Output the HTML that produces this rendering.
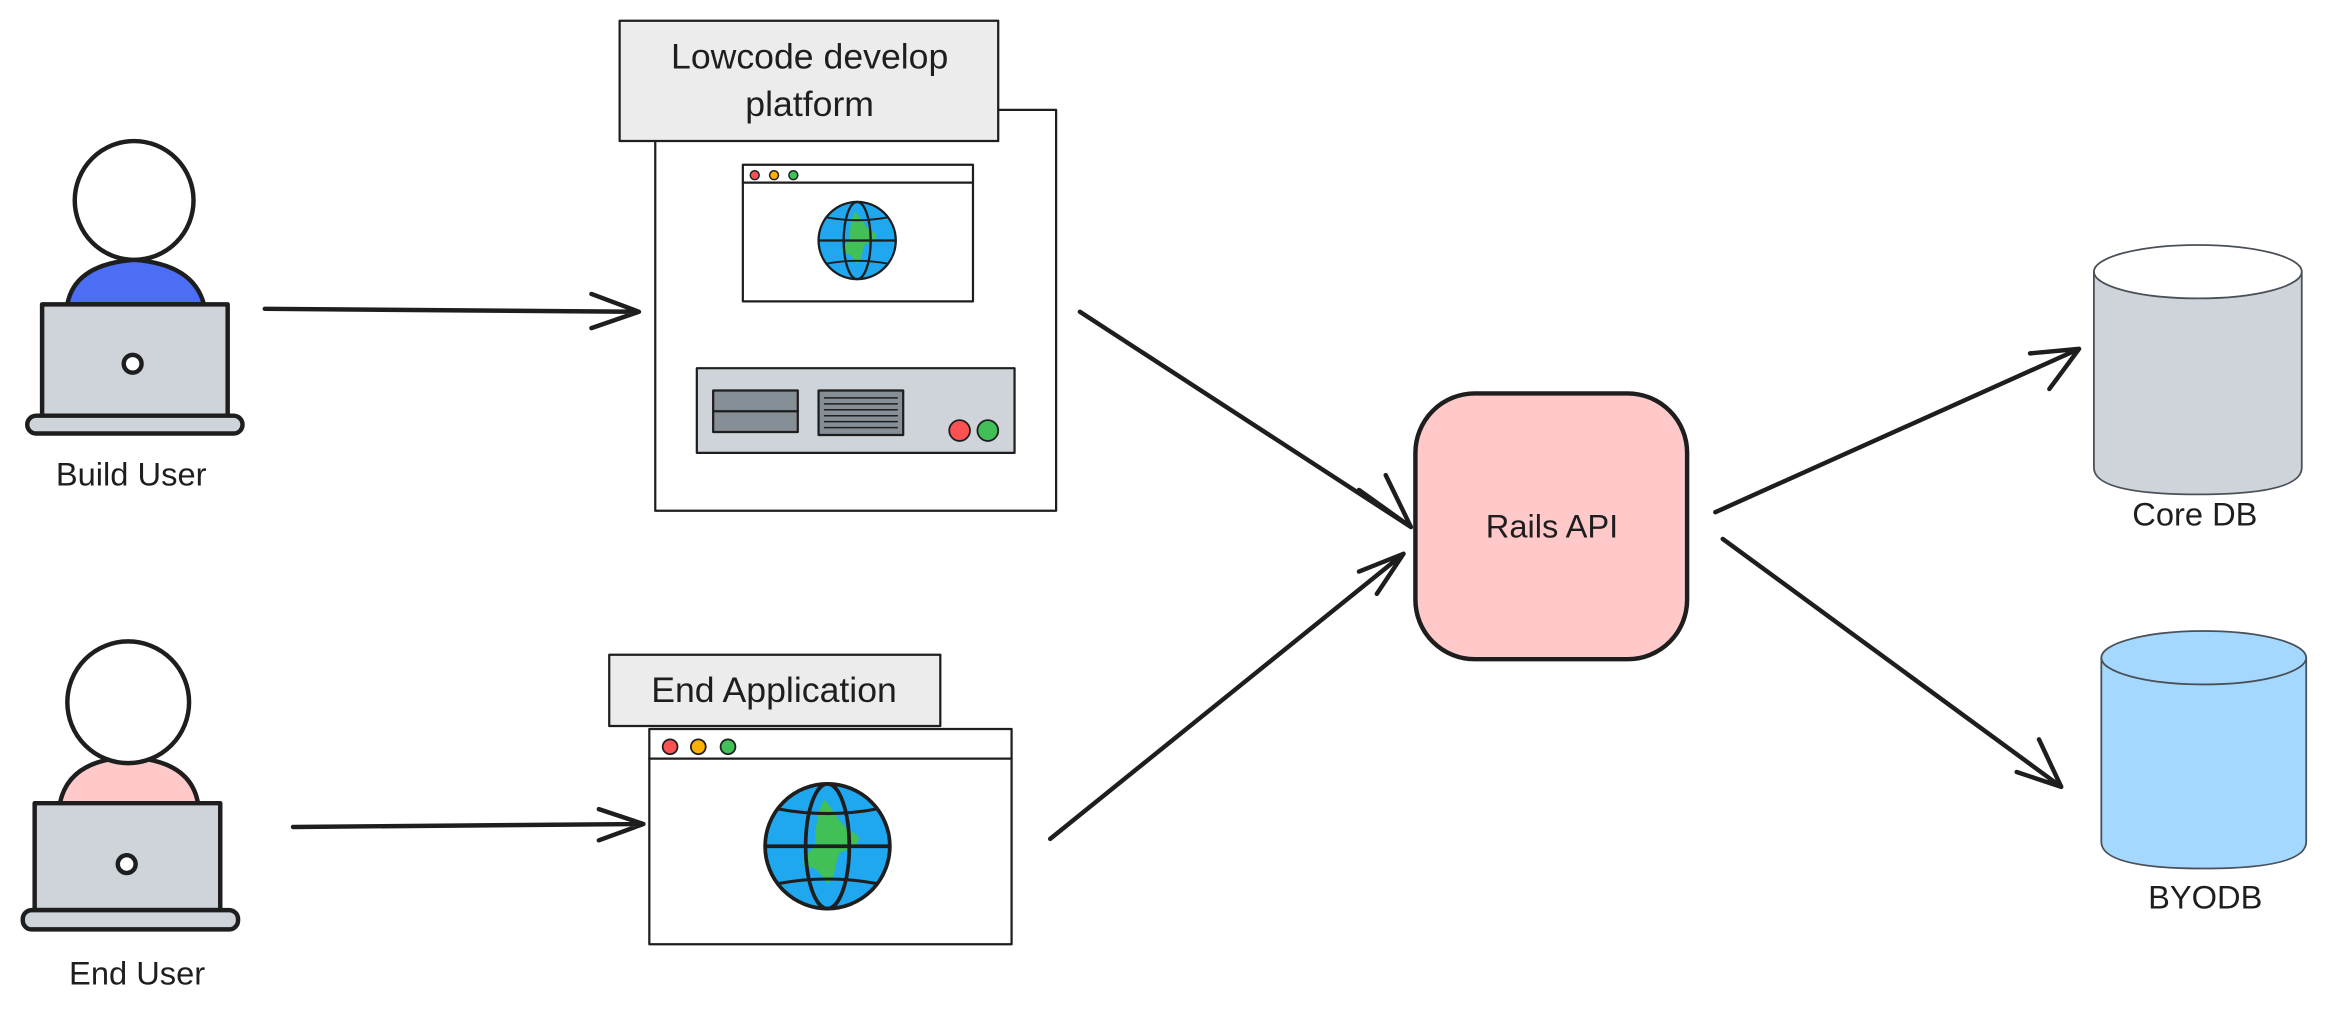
<!DOCTYPE html>
<html><head><meta charset="utf-8"><style>
html,body{margin:0;padding:0;background:#fff;}
svg{display:block;}
text{font-family:"Liberation Sans",sans-serif;fill:#1e1e1e;}
</style></head><body>
<svg width="2329" height="1017" viewBox="0 0 1568 685" xmlns="http://www.w3.org/2000/svg">
<defs>
<g id="globe" stroke="#1e1e1e" stroke-width="0.06">
<circle r="1" fill="#1fa8f0"/>
<path d="M-0.05,-0.75 C0.1,-0.6 0.2,-0.3 0.45,-0.2 C0.6,-0.1 0.4,0.05 0.2,0.1 C0.1,0.3 0.15,0.5 0,0.6 C-0.15,0.4 -0.2,0.3 -0.35,0.35 C-0.45,0.2 -0.3,0.1 -0.2,0 C-0.2,-0.3 -0.15,-0.6 -0.05,-0.75Z" fill="#40c057" stroke="none"/>
<ellipse rx="0.35" ry="1" fill="none"/>
<line x1="-1" y1="0" x2="1" y2="0"/>
<path d="M-0.8,-0.6 Q0,-0.45 0.8,-0.6 M-0.8,0.6 Q0,0.45 0.8,0.6" fill="none" stroke-width="0.05"/>
</g>
</defs>
<g stroke="#1e1e1e" stroke-linecap="round" stroke-linejoin="round">
<!-- Build user -->
<path d="M45,205 Q50,178 90,175 Q130,178 137,205Z" fill="#4c6ef5" stroke-width="3"/>
<circle cx="90" cy="135" r="40" fill="#fff" stroke-width="3"/>
<rect x="28" y="205" width="125" height="75" fill="#ced4da" stroke-width="3"/>
<rect x="18" y="280" width="145" height="12" rx="6" fill="#ced4da" stroke-width="3"/>
<circle cx="89" cy="245" r="6" fill="#fff" stroke-width="3"/>
<!-- End user -->
<path d="M40,541 Q46,512 86,510 Q128,512 133,541Z" fill="#ffc9c9" stroke-width="3"/>
<circle cx="86" cy="473" r="41" fill="#fff" stroke-width="3"/>
<rect x="23" y="541" width="125" height="72" fill="#ced4da" stroke-width="3"/>
<rect x="15" y="613" width="145" height="13" rx="6" fill="#ced4da" stroke-width="3"/>
<circle cx="85" cy="582" r="6" fill="#fff" stroke-width="3"/>
<!-- Lowcode -->
<rect x="441" y="74" width="270" height="270" fill="#fff" stroke-width="1.5"/>
<rect x="417" y="14" width="255" height="81" fill="#ececec" stroke-width="1.5"/>
<rect x="500" y="111" width="155" height="92" fill="#fff" stroke-width="1.5"/>
<line x1="500" y1="123" x2="655" y2="123" stroke-width="1.5"/>
<circle cx="508" cy="118" r="3" fill="#fa5252" stroke-width="1"/>
<circle cx="521" cy="118" r="3" fill="#fab005" stroke-width="1"/>
<circle cx="534" cy="118" r="3" fill="#40c057" stroke-width="1"/>
<rect x="469" y="248" width="214" height="57" fill="#ced4da" stroke-width="1.5"/>
<rect x="480" y="263" width="57" height="28" fill="#868e96" stroke-width="1.5"/>
<line x1="480" y1="277" x2="537" y2="277" stroke-width="1.5"/>
<rect x="551" y="263" width="57" height="30" fill="#868e96" stroke-width="1.5"/>
<path d="M555,268H604M555,272H604M555,276H604M555,280H604M555,284H604M555,288H604" stroke-width="1"/>
<circle cx="646" cy="290" r="7" fill="#fa5252" stroke-width="1.2"/>
<circle cx="665" cy="290" r="7" fill="#40c057" stroke-width="1.2"/>
<!-- End application -->
<rect x="437" y="491" width="244" height="145" fill="#fff" stroke-width="1.5"/>
<rect x="410" y="441" width="223" height="48" fill="#ececec" stroke-width="1.5"/>
<line x1="437" y1="511" x2="681" y2="511" stroke-width="1.5"/>
<circle cx="451" cy="503" r="5" fill="#fa5252" stroke-width="1.2"/>
<circle cx="470" cy="503" r="5" fill="#fab005" stroke-width="1.2"/>
<circle cx="490" cy="503" r="5" fill="#40c057" stroke-width="1.2"/>
<!-- Rails -->
<rect x="953" y="265" width="183" height="179" rx="40" fill="#ffc9c9" stroke-width="3"/>
<!-- DBs -->
<path d="M1410,183 V315 Q1410,333 1480,333 Q1550,333 1550,315 V183" fill="#ced4da" stroke="#495057" stroke-width="1.2"/>
<ellipse cx="1480" cy="183" rx="70" ry="18" fill="#fff" stroke="#495057" stroke-width="1.2"/>
<path d="M1415,443 V567 Q1415,585 1484,585 Q1553,585 1553,567 V443" fill="#a5d8ff" stroke="#495057" stroke-width="1.2"/>
<ellipse cx="1484" cy="443" rx="69" ry="18" fill="#a5d8ff" stroke="#495057" stroke-width="1.2"/>
<!-- arrows -->
<g fill="none" stroke-width="3">
<path d="M178,208 L430,210 M398,198 L430,210 L398,221"/>
<path d="M197,557 L433,555 M403,545 L433,555 L403,566"/>
<path d="M727,210 L950,355 M915,330 L950,355 M933,320 L950,355"/>
<path d="M707,565 L945,373 M915,385 L945,373 M927,400 L945,373"/>
<path d="M1155,345 L1400,235 M1367,238 L1400,235 M1380,262 L1400,235"/>
<path d="M1160,363 L1388,530 M1358,520 L1388,530 M1373,498 L1388,530"/>
</g>
</g>
<use href="#globe" transform="translate(577,162) scale(26)"/>
<use href="#globe" transform="translate(557,570) scale(42)"/>
<text x="545" y="46" font-size="24" text-anchor="middle">Lowcode develop</text>
<text x="545" y="78" font-size="24" text-anchor="middle">platform</text>
<text x="521" y="473" font-size="24" text-anchor="middle">End Application</text>
<text x="1045" y="362" font-size="22" text-anchor="middle">Rails API</text>
<text x="1478" y="354" font-size="22" text-anchor="middle">Core DB</text>
<text x="1485" y="612" font-size="22" text-anchor="middle">BYODB</text>
<text x="88" y="327" font-size="22" text-anchor="middle">Build User</text>
<text x="92" y="663" font-size="22" text-anchor="middle">End User</text>
</svg>
</body></html>
